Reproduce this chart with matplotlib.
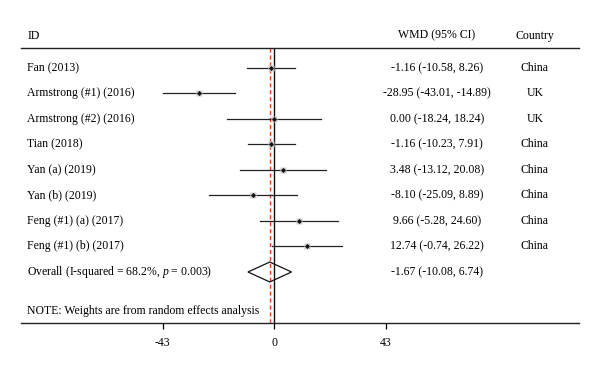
import numpy as np
import matplotlib
matplotlib.use('Agg')
import matplotlib.pyplot as plt
from matplotlib.patches import Polygon

plt.rcParams['font.family'] = ['Liberation Serif', 'DejaVu Serif']
plt.rcParams['mathtext.fontset'] = 'custom'
plt.rcParams['mathtext.rm'] = 'Liberation Serif'
plt.rcParams['mathtext.it'] = 'Liberation Serif:italic'

studies = ['Fan (2013)', 'Armstrong (#1) (2016)', 'Armstrong (#2) (2016)', 'Tian (2018)',
           'Yan (a) (2019)', 'Yan (b) (2019)', 'Feng (#1) (a) (2017)', 'Feng (#1) (b) (2017)']
wmd = [-1.16, -28.95, 0.00, -1.16, 3.48, -8.10, 9.66, 12.74]
lower = [-10.58, -43.01, -18.24, -10.23, -13.12, -25.09, -5.28, -0.74]
upper = [8.26, -14.89, 18.24, 7.91, 20.08, 8.89, 24.60, 26.22]
countries = ['China', 'UK', 'UK', 'China', 'China', 'China', 'China', 'China']

overall_label = 'Overall (I-squared = 68.2%, $p$ = 0.003)'
overall = -1.67
overall_lo = -10.08
overall_hi = 6.74
note = 'NOTE: Weights are from random effects analysis'
xticks = [-43, 0, 43]

fig = plt.figure(figsize=(6, 3.74), dpi=100)
ax = fig.add_axes([0.035, 0.1364, 0.93, 0.7353])
ax.set_xlim(-97.6, 117.6)
ax.set_ylim(10.0, -0.784)

fs = 8.5
col_id = 0.011
col_wmd = 0.7455  # axes fraction of WMD column centre
col_cty = 0.921
ytr = ax.get_yaxis_transform()

# study rows
for i in range(len(studies)):
    ax.plot([lower[i], upper[i]], [i, i], color='#222222', lw=0.9, zorder=3)
    ax.plot(wmd[i], i, marker='s', ms=4, color='#cccccc', mec='none', zorder=3)
    ax.plot(wmd[i], i, marker='D', ms=2.6, color='#111111', mec='none', zorder=4)
    ax.text(col_id, i, studies[i], transform=ytr, ha='left', va='center', fontsize=fs)
    ax.text(col_wmd, i, f'{wmd[i]:.2f} ({lower[i]:.2f}, {upper[i]:.2f})',
            transform=ytr, ha='center', va='center', fontsize=fs)
    ax.text(col_cty, i, countries[i], transform=ytr, ha='center', va='center', fontsize=fs)

# overall diamond
k = len(studies)
dia = Polygon([[overall_lo, k], [overall, k - 0.39], [overall_hi, k], [overall, k + 0.39]],
              closed=True, fill=False, edgecolor='#111111', lw=0.9, zorder=4)
ax.add_patch(dia)
ax.text(col_id, k, overall_label, transform=ytr, ha='left', va='center', fontsize=fs)
ax.text(col_wmd, k, f'{overall:.2f} ({overall_lo:.2f}, {overall_hi:.2f})',
        transform=ytr, ha='center', va='center', fontsize=fs)
ax.text(col_id, k + 1.53, note, transform=ytr, ha='left', va='center', fontsize=fs)

# reference lines
ax.axvline(0, color='#111111', lw=1.0, zorder=2)
ax.axvline(overall, color='#e4481d', lw=1.0, ls=(0, (3, 2)), zorder=2)

# headers
ax.text(col_id, 1.045, 'ID', transform=ax.transAxes, ha='left', va='center', fontsize=fs)
ax.text(col_wmd, 1.045, 'WMD (95% CI)', transform=ax.transAxes, ha='center', va='center', fontsize=fs)
ax.text(col_cty, 1.045, 'Country', transform=ax.transAxes, ha='center', va='center', fontsize=fs)

for s in ['left', 'right']:
    ax.spines[s].set_visible(False)
for s in ['top', 'bottom']:
    ax.spines[s].set_linewidth(1.0)
    ax.spines[s].set_color('#222222')
ax.set_yticks([])
ax.set_xticks(xticks)
ax.set_xticklabels([str(t) for t in xticks])
ax.tick_params(axis='x', direction='out', length=4, width=0.9, labelsize=fs, pad=6)

fig.savefig('out.png', dpi=100)
